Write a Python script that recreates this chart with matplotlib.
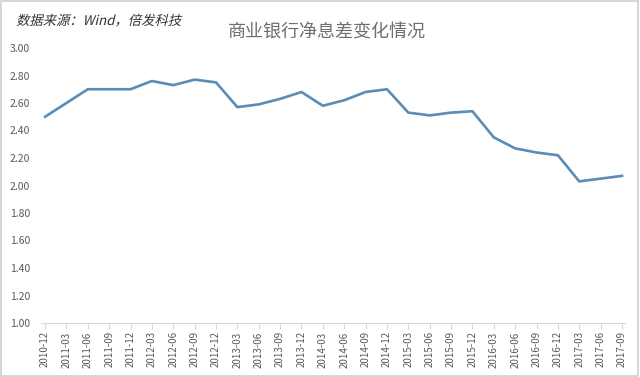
import matplotlib.pyplot as plt
from matplotlib.patches import Rectangle, PathPatch
from matplotlib.textpath import TextPath
from matplotlib.font_manager import FontProperties
from matplotlib.transforms import Affine2D
from matplotlib.ticker import FormatStrFormatter

plt.rcParams['font.family'] = ['Noto Sans CJK SC', 'DejaVu Sans']

# quarterly net interest margin of commercial banks (%)
quarters = ["2010-12", "2011-03", "2011-06", "2011-09", "2011-12",
            "2012-03", "2012-06", "2012-09", "2012-12",
            "2013-03", "2013-06", "2013-09", "2013-12",
            "2014-03", "2014-06", "2014-09", "2014-12",
            "2015-03", "2015-06", "2015-09", "2015-12",
            "2016-03", "2016-06", "2016-09", "2016-12",
            "2017-03", "2017-06", "2017-09"]
nim = [2.50, 2.60, 2.70, 2.70, 2.70,
       2.76, 2.73, 2.77, 2.75,
       2.57, 2.59, 2.63, 2.68,
       2.58, 2.62, 2.68, 2.70,
       2.53, 2.51, 2.53, 2.54,
       2.35, 2.27, 2.24, 2.22,
       2.03, 2.05, 2.07]
y_ticks = [1.00, 1.20, 1.40, 1.60, 1.80, 2.00, 2.20, 2.40, 2.60, 2.80, 3.00]

fig = plt.figure(figsize=(6.4, 3.77), dpi=100)
ax = fig.add_axes([41 / 640, 1 - 323 / 377, (625 - 41) / 640, (323 - 48) / 377])

x = list(range(len(quarters)))
ax.plot(x, nim, color='#5b8cb7', linewidth=1.9, solid_joinstyle='round')

ax.set_xlim(-0.19, 27.14)
ax.set_ylim(1.0, 3.0)
ax.set_yticks(y_ticks)
ax.yaxis.set_major_formatter(FormatStrFormatter('%.2f'))
ax.set_xticks(x)
ax.set_xticklabels(quarters, rotation=90)

for s in ['top', 'right', 'left']:
    ax.spines[s].set_visible(False)
ax.spines['bottom'].set_color('#d9d9d9')
ax.tick_params(axis='y', length=0, pad=8, labelsize=7.5, labelcolor='#595959')
ax.tick_params(axis='x', length=4, color='#d9d9d9', pad=2, labelsize=7, labelcolor='#595959')

fig.text(0.51, 1 - 33 / 377, '商业银行净息差变化情况', ha='center', va='center',
         fontsize=13, color='#6e6e6e')

# source note in slanted (italic-like) text, CJK font has no italic face
src_path = TextPath((0, 0), '数据来源：Wind，倍发科技', size=9.6,
                    prop=FontProperties(family='Noto Sans CJK SC'))
src_trans = Affine2D().skew_deg(14, 0).scale(fig.dpi / 72).translate(16, 377 - 25)
fig.patches.append(PathPatch(src_path, transform=src_trans, facecolor='#333333',
                             edgecolor='none'))

fig.patches.append(Rectangle((0.002, 0.003), 0.995, 0.994, transform=fig.transFigure,
                             fill=False, edgecolor='#d0d0d0', linewidth=1.2))

fig.savefig('out.png', dpi=100)
